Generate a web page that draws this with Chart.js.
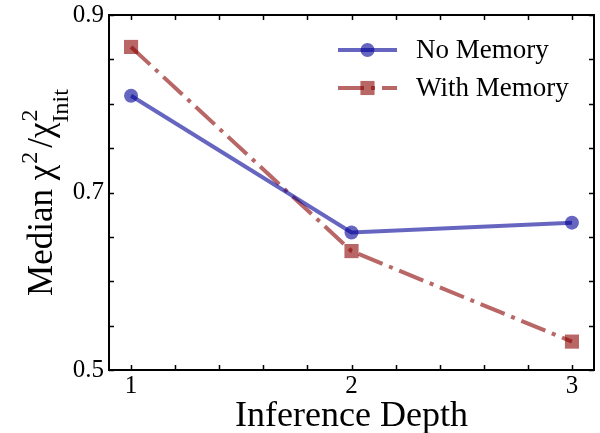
<!DOCTYPE html>
<html>
<head>
<meta charset="utf-8">
<script src="https://cdn.jsdelivr.net/npm/chart.js@4/dist/chart.umd.min.js"></script>
<style>
  html, body { margin: 0; padding: 0; background: #ffffff; }
  #wrap { width: 600px; height: 433px; position: relative; }
</style>
</head>
<body>
<div id="wrap"><canvas id="c" width="600" height="433"></canvas></div>
<script>
// ---- data ----
const depths = [1, 2, 3];
const noMemory = [0.809, 0.655, 0.666];
const withMemory = [0.864, 0.634, 0.532];
const seriesLabels = ['No Memory', 'With Memory'];
const xTickValues = [1, 1.2, 1.4, 1.6, 1.8, 2, 2.2, 2.4, 2.6, 2.8, 3];
const xTickLabels = {1: '1', 2: '2', 3: '3'};
const yTickValues = [0.5, 0.55, 0.6, 0.65, 0.7, 0.75, 0.8, 0.85, 0.9];
const yTickLabels = {0.5: '0.5', 0.7: '0.7', 0.9: '0.9'};
const xTitle = 'Inference Depth';
const yTitleParts = { main: 'Median χ', sup1: '2', slash: '/χ', sup2: '2', sub2: 'Init' };

const SERIF = '"Liberation Serif", "DejaVu Serif", serif';
const blue = 'rgba(0,0,150,0.6)';
const red = 'rgba(139,0,0,0.6)';

function labelFor(map, v) {
  const k = Object.keys(map).find(key => Math.abs(parseFloat(key) - v) < 1e-9);
  return k !== undefined ? map[k] : '';
}

const framePlugin = {
  id: 'frame',
  afterDraw(chart) {
    const ctx = chart.ctx;
    const a = chart.chartArea;
    const xs = chart.scales.x, ys = chart.scales.y;
    ctx.save();
    ctx.strokeStyle = '#000';
    ctx.lineWidth = 2;
    ctx.strokeRect(a.left, a.top, a.right - a.left, a.bottom - a.top);
    ctx.lineWidth = 1.5;
    const tl = 5;
    ctx.beginPath();
    xs.ticks.forEach(t => {
      const px = Math.round(xs.getPixelForValue(t.value)) + 0.5;
      ctx.moveTo(px, a.bottom); ctx.lineTo(px, a.bottom - tl);
      ctx.moveTo(px, a.top); ctx.lineTo(px, a.top + tl);
    });
    ys.ticks.forEach(t => {
      const py = Math.round(ys.getPixelForValue(t.value)) + 0.5;
      ctx.moveTo(a.left, py); ctx.lineTo(a.left + tl, py);
      ctx.moveTo(a.right, py); ctx.lineTo(a.right - tl, py);
    });
    ctx.stroke();
    ctx.restore();

    // y-axis title with superscripts / subscript
    const F = 35, S = 24;
    const fMain = F + 'px ' + SERIF, fSmall = S + 'px ' + SERIF;
    ctx.save();
    ctx.fillStyle = '#000';
    ctx.textBaseline = 'alphabetic';
    ctx.textAlign = 'left';
    ctx.font = fMain;
    const wMain = ctx.measureText(yTitleParts.main).width;
    const wSlash = ctx.measureText(yTitleParts.slash).width;
    ctx.font = fSmall;
    const wSup1 = ctx.measureText(yTitleParts.sup1).width;
    const wSub2 = ctx.measureText(yTitleParts.sub2).width;
    const gap = 5;
    const total = wMain + wSup1 + gap + wSlash + wSub2;
    const cy = (a.top + a.bottom) / 2;
    ctx.translate(52, cy);
    ctx.rotate(-Math.PI / 2);
    let x = -total / 2;
    ctx.font = fMain;
    ctx.fillText(yTitleParts.main, x, 0);
    x += wMain;
    ctx.font = fSmall;
    ctx.fillText(yTitleParts.sup1, x + 1, -15);
    x += wSup1 + gap;
    ctx.font = fMain;
    ctx.fillText(yTitleParts.slash, x, 0);
    x += wSlash;
    ctx.font = fSmall;
    ctx.fillText(yTitleParts.sup2, x + 1, -15);
    ctx.fillText(yTitleParts.sub2, x, 16);
    ctx.restore();

    // legend
    ctx.save();
    const rows = [50, 88];
    chart.data.datasets.forEach((ds, i) => {
      const y = rows[i];
      ctx.strokeStyle = ds.borderColor;
      ctx.lineWidth = ds.borderWidth;
      ctx.setLineDash(ds.borderDash || []);
      ctx.beginPath();
      ctx.moveTo(338, y); ctx.lineTo(397, y);
      ctx.stroke();
      ctx.setLineDash([]);
      ctx.fillStyle = ds.pointBackgroundColor;
      if (ds.pointStyle === 'rect') {
        const s = ds.pointRadius * Math.SQRT1_2;
        ctx.fillRect(367.5 - s, y - s, 2 * s, 2 * s);
      } else {
        ctx.beginPath();
        ctx.arc(367.5, y, ds.pointRadius, 0, Math.PI * 2);
        ctx.fill();
      }
      ctx.fillStyle = '#000';
      ctx.font = '27px ' + SERIF;
      ctx.textBaseline = 'middle';
      ctx.textAlign = 'left';
      ctx.fillText(ds.label, 416, y + 1);
    });
    ctx.restore();
  }
};

new Chart(document.getElementById('c'), {
  type: 'line',
  data: {
    datasets: [
      {
        label: seriesLabels[0],
        data: depths.map((d, i) => ({x: d, y: noMemory[i]})),
        borderColor: blue,
        backgroundColor: blue,
        pointBackgroundColor: blue,
        pointBorderWidth: 0,
        pointRadius: 7,
        pointStyle: 'circle',
        borderWidth: 4,
        tension: 0
      },
      {
        label: seriesLabels[1],
        data: depths.map((d, i) => ({x: d, y: withMemory[i]})),
        borderColor: red,
        backgroundColor: red,
        pointBackgroundColor: red,
        pointBorderWidth: 0,
        pointRadius: 10,
        pointStyle: 'rect',
        borderWidth: 4,
        borderDash: [26, 7, 4, 7],
        borderCapStyle: 'butt',
        tension: 0
      }
    ]
  },
  options: {
    responsive: false,
    animation: false,
    devicePixelRatio: 1,
    layout: { autoPadding: false, padding: { left: 0, top: 15, right: 6, bottom: 0 } },
    plugins: { legend: { display: false }, tooltip: { enabled: false } },
    scales: {
      x: {
        type: 'linear',
        min: 0.9,
        max: 3.1,
        afterBuildTicks(scale) { scale.ticks = xTickValues.map(v => ({value: v})); },
        afterFit(scale) { scale.height = 63; scale.paddingLeft = 0; scale.paddingRight = 0; },
        grid: { display: false, drawTicks: false },
        border: { display: false },
        ticks: {
          autoSkip: false,
          maxRotation: 0,
          padding: 1,
          color: '#000',
          font: { family: SERIF, size: 25 },
          callback: (v) => labelFor(xTickLabels, v)
        },
        title: {
          display: true,
          text: xTitle,
          color: '#000',
          font: { family: SERIF, size: 36, lineHeight: 1 },
          padding: { top: 0, bottom: -2 }
        }
      },
      y: {
        type: 'linear',
        min: 0.5,
        max: 0.9,
        afterBuildTicks(scale) { scale.ticks = yTickValues.map(v => ({value: v})); },
        afterFit(scale) { scale.width = 109; scale.paddingTop = 0; scale.paddingBottom = 0; },
        grid: { display: false, drawTicks: false },
        border: { display: false },
        ticks: {
          autoSkip: false,
          padding: 5,
          color: '#000',
          font: { family: SERIF, size: 25 },
          callback: (v) => labelFor(yTickLabels, v)
        }
      }
    }
  },
  plugins: [framePlugin]
});
</script>
</body>
</html>
